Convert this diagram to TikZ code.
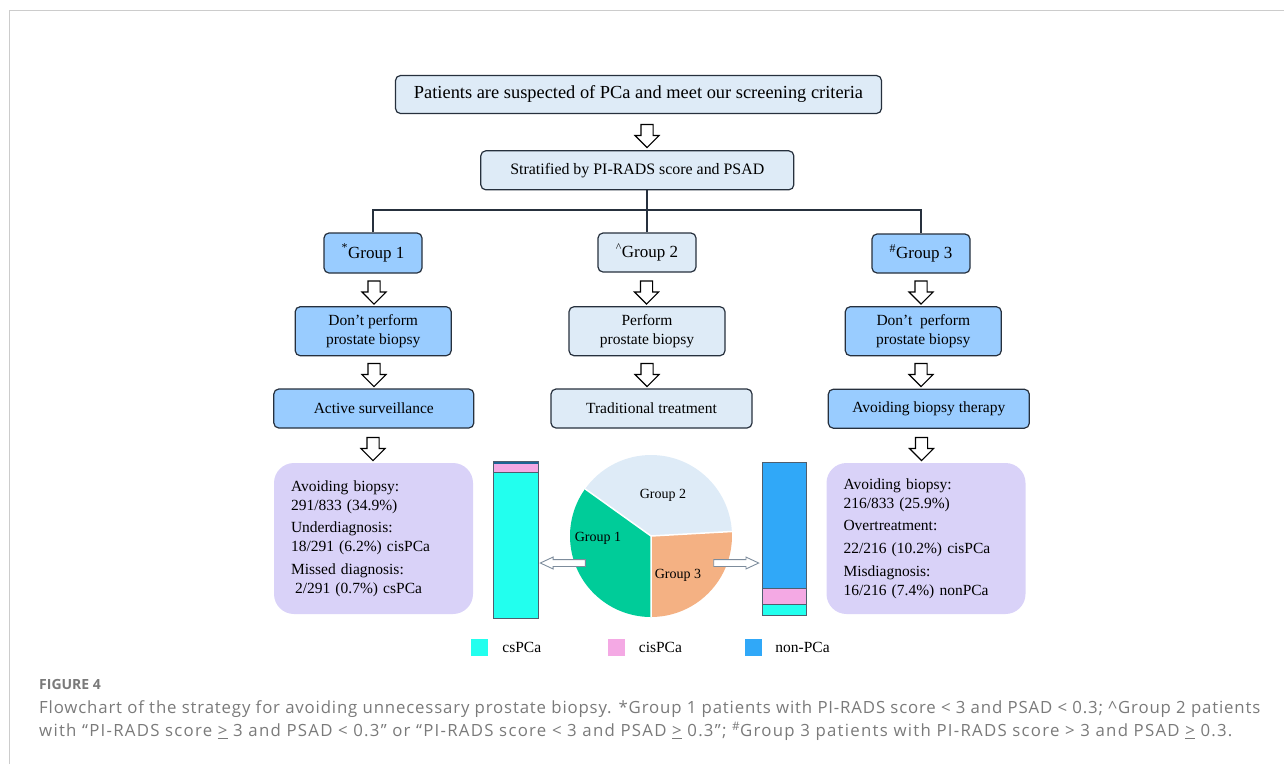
\documentclass[tikz,border=0pt]{standalone}
\usepackage{fontspec}
\setmainfont{Liberation Serif}
\newfontfamily\capfont[LetterSpace=5.0]{Open Sans}
\newfontfamily\headfont{Open Sans}
\usepackage{tikz}
\usetikzlibrary{shapes,calc,positioning}

\definecolor{linecol}{HTML}{26303D}
\definecolor{lightcol}{HTML}{DEEBF7}
\definecolor{bluecol}{HTML}{99CCFF}
\definecolor{purplecol}{HTML}{D9D2F8}
\definecolor{greencol}{HTML}{00CC99}
\definecolor{peachcol}{HTML}{F4B183}
\definecolor{cyancol}{HTML}{22FFEE}
\definecolor{pinkcol}{HTML}{F4A9E4}
\definecolor{nonpcacol}{HTML}{30A8F8}
\definecolor{graycol}{HTML}{7A7A7A}
\definecolor{framecol}{HTML}{CCCCCC}
\definecolor{barcol}{HTML}{4F5E6E}
\definecolor{sidecol}{HTML}{7D8C9C}

\begin{document}
\begin{tikzpicture}[x=1pt,y=-1pt,
	lightbox/.style={draw=linecol, fill=lightcol, line width=1.2pt, rounded corners=5pt, inner sep=0pt, align=center, font=\fontsize{15.5}{19}\selectfont},
	bluebox/.style={lightbox, fill=bluecol},
	resultbox/.style={fill=purplecol, rounded corners=20pt, text width=165pt, inner xsep=17pt, inner ysep=0pt, minimum height=151pt, align=left, font=\fontsize{15.5}{19}\selectfont},
	downarrow/.style={single arrow, draw=black, fill=white, line width=1.1pt, rotate=-90, minimum height=23pt, minimum width=23pt, single arrow head extend=6pt, single arrow tip angle=90, inner xsep=0pt, inner ysep=5.5pt},
	sidearrow/.style={single arrow, draw=sidecol, fill=white, line width=0.9pt, minimum height=45pt, minimum width=11pt, single arrow head extend=2.5pt, single arrow tip angle=50, inner xsep=0pt, inner ysep=3pt},
	legbox/.style={minimum size=17pt, inner sep=0pt},
	link/.style={draw=linecol, line width=1.2pt},
	capstyle/.style={anchor=base west, inner sep=0pt, text=graycol, font=\capfont\fontsize{16.8}{20}\selectfont}]
	\useasboundingbox (0,0) rectangle (1284,764);
	\draw[framecol, line width=1pt] (9.5,764) -- (9.5,10) -- (1284,10);

	% flowchart
	\node[lightbox, minimum width=486pt, minimum height=38pt, font=\fontsize{18.4}{20}\selectfont] (1) at (638.5,94.5) {Patients are suspected of PCa and meet our screening criteria};
	\node[lightbox, minimum width=313pt, minimum height=39pt, font=\fontsize{15.9}{19}\selectfont] (2) at (637.3,170.3) {Stratified by PI-RADS score and PSAD};
	\node[bluebox, minimum width=98pt, minimum height=40pt, font=\fontsize{17}{20}\selectfont] (3) at (373,253) {\textsuperscript{*}Group 1};
	\node[lightbox, minimum width=98pt, minimum height=39pt, font=\fontsize{17}{20}\selectfont] (4) at (647,252.5) {\textsuperscript{\textasciicircum}Group 2};
	\node[bluebox, minimum width=98pt, minimum height=39pt, font=\fontsize{17}{20}\selectfont] (5) at (921,253.5) {\textsuperscript{\#}Group 3};
	\node[bluebox, minimum width=156pt, minimum height=49pt] (6) at (373.2,331.2) {Don’t perform\\prostate biopsy};
	\node[lightbox, minimum width=156pt, minimum height=49pt] (7) at (647,331.2) {Perform\\prostate biopsy};
	\node[bluebox, minimum width=156pt, minimum height=49pt] (8) at (923.3,331.2) {Don’t\ \ perform\\prostate biopsy};
	\node[bluebox, minimum width=200pt, minimum height=39pt] (9) at (373.8,408.5) {Active surveillance};
	\node[lightbox, minimum width=201pt, minimum height=39pt] (10) at (651.5,408.5) {Traditional treatment};
	\node[bluebox, minimum width=201pt, minimum height=39pt] (11) at (928.8,408.7) {Avoiding biopsy therapy};

	\coordinate (15) at (647,210);
	\path[link] (4.north) -- (4.north |- 2.south);
	\path[link] (3.north) |- (15) -| (5.north);

	\node[downarrow] (20) at (647,133) {};
	\node[downarrow] (21) at (374,289.5) {};
	\node[downarrow] (22) at (646.5,289.5) {};
	\node[downarrow] (23) at (921,289.5) {};
	\node[downarrow] (24) at (374,372) {};
	\node[downarrow] (25) at (647,372) {};
	\node[downarrow] (26) at (921,372) {};
	\node[downarrow] (27) at (373,446) {};
	\node[downarrow] (28) at (921.5,446) {};

	% results
	\node[resultbox] (12) at (373.5,538.5) {Avoiding biopsy:\\291/833 (34.9\%)\\[3pt]Underdiagnosis:\\18/291 (6.2\%) cisPCa\\[4pt]Missed diagnosis:\\\hspace*{4pt}2/291 (0.7\%) csPCa};
	\node[resultbox] (13) at (926,538.5) {Avoiding biopsy:\\216/833 (25.9\%)\\[3pt]Overtreatment:\\[4pt]22/216 (10.2\%) cisPCa\\[4pt]Misdiagnosis:\\16/216 (7.4\%) nonPCa};

	% pie
	\coordinate (14) at (651,536);
	\fill[greencol] (14) -- ++(-144.4:81) arc[start angle=-144.4, end angle=-270, radius=81] -- cycle;
	\fill[peachcol] (14) -- ++(-270:81) arc[start angle=-270, end angle=-363.2, radius=81] -- cycle;
	\fill[lightcol] (14) -- ++(-3.2:81) arc[start angle=-3.2, end angle=-144.4, radius=81] -- cycle;
	\draw[white, line width=1.5pt] (14) -- ++(-144.4:81) (14) -- ++(-270:81) (14) -- ++(-3.2:81);
	\node[font=\fontsize{14}{16}\selectfont] (16) at (598,538) {Group 1};
	\node[font=\fontsize{14}{16}\selectfont] (17) at (663,495) {Group 2};
	\node[font=\fontsize{14}{16}\selectfont] (18) at (678,575) {Group 3};

	\node[sidearrow, rotate=180] (29) at (566.5,563) {};
	\node[sidearrow] (30) at (732.5,563) {};

	% bars
	\fill[cyancol] (493,472) rectangle (538,618);
	\fill[pinkcol] (493,463.5) rectangle (538,472);
	\fill[nonpcacol!60!black] (493,461.7) rectangle (538,463.5);
	\draw[barcol, line width=0.9pt] (493,472) -- (538,472) (493,461.7) rectangle (538,618);
	\fill[nonpcacol] (762,462) rectangle (806,588);
	\fill[pinkcol] (762,588) rectangle (806,604);
	\fill[cyancol] (762,604) rectangle (806,615);
	\draw[barcol, line width=0.9pt] (762,588) -- (806,588) (762,604) -- (806,604) (762,462) rectangle (806,615);

	% legend
	\node[legbox, fill=cyancol] (31) at (479.5,647.5) {};
	\node[legbox, fill=pinkcol] (32) at (616,647.5) {};
	\node[legbox, fill=nonpcacol] (33) at (753.5,647.5) {};
	\node[inner sep=0pt, font=\fontsize{15.5}{19}\selectfont, right=14pt of 31] (34) {csPCa};
	\node[inner sep=0pt, font=\fontsize{15.5}{19}\selectfont, right=14pt of 32] (35) {cisPCa};
	\node[inner sep=0pt, font=\fontsize{15.5}{19}\selectfont, right=13pt of 33] (36) {non-PCa};

	% caption
	\node[capstyle, font=\headfont\bfseries\fontsize{14}{17}\selectfont] (40) at (39,689) {FIGURE 4};
	\node[capstyle] (41) at (39,713.5) {Flowchart of the strategy for avoiding unnecessary prostate biopsy. *Group 1 patients with PI-RADS score < 3 and PSAD < 0.3; \textasciicircum Group 2 patients};
	\node[capstyle] (42) at (39,736.5) {\addfontfeature{LetterSpace=7.5}with “PI-RADS score \underline{>} 3 and PSAD < 0.3” or “PI-RADS score < 3 and PSAD \underline{>} 0.3”; \textsuperscript{\#}Group 3 patients with PI-RADS score > 3 and PSAD \underline{>} 0.3.};
\end{tikzpicture}
\end{document}
